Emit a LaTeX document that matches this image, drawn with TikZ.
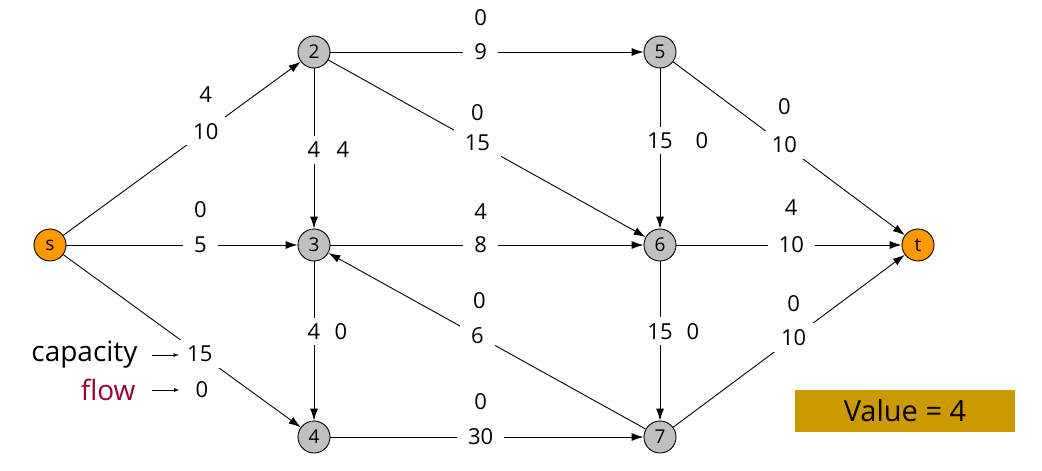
\documentclass[tikz,border=0pt]{standalone}
\usepackage{fontspec}
\setmainfont{Open Sans}
\usetikzlibrary{arrows,arrows.meta,positioning}
\definecolor{vertexgray}{RGB}{192,192,192}
\definecolor{terminalorange}{RGB}{255,153,0}
\definecolor{flowred}{RGB}{153,0,51}
\definecolor{valuegold}{RGB}{204,153,0}

\begin{document}
\begin{tikzpicture}[x=1pt,y=-1pt,
    vertex/.style={circle,draw,line width=0.9pt,fill=vertexgray,minimum size=32pt,inner sep=0pt,font=\fontsize{19}{21}\selectfont},
    terminal/.style={vertex,fill=terminalorange},
    netedge/.style={-{Latex[length=12pt,width=8pt]},line width=0.9pt},
    caplbl/.style={fill=white,inner xsep=11pt,inner ysep=6pt,font=\fontsize{22}{24}\selectfont},
    flowlbl/.style={inner sep=2pt,font=\fontsize{22}{24}\selectfont},
    legend/.style={font=\fontsize{28}{30}\selectfont}]
    \useasboundingbox (0,0) rectangle (1042,471);

    % Vertices
    \node[terminal] (s) at (50,245) {s};
    \node[vertex] (n2) at (314,52) {2};
    \node[vertex] (n3) at (314,245) {3};
    \node[vertex] (n4) at (314,437) {4};
    \node[vertex] (n5) at (660,52) {5};
    \node[vertex] (n6) at (660,245) {6};
    \node[vertex] (n7) at (660,437) {7};
    \node[terminal] (t) at (918,245) {t};

    % Edges with capacities
    \draw[netedge] (s) -- node[caplbl,pos=0.6] (cs2) {10} (n2);
    \draw[netedge] (s) -- node[caplbl,pos=0.58] (cs3) {5} (n3);
    \draw[netedge] (s) -- node[caplbl,pos=0.575] (cs4) {15} (n4);
    \draw[netedge] (n2) -- node[caplbl,pos=0.48] (c25) {9} (n5);
    \draw[netedge] (n2) -- node[caplbl,pos=0.47] (c26) {15} (n6);
    \draw[netedge] (n2) -- node[caplbl,pos=0.51] (c23) {4} (n3);
    \draw[netedge] (n3) -- node[caplbl,pos=0.48] (c36) {8} (n6);
    \draw[netedge] (n3) -- node[caplbl,pos=0.44] (c34) {4} (n4);
    \draw[netedge] (n4) -- node[caplbl,pos=0.48] (c47) {30} (n7);
    \draw[netedge] (n7) -- node[caplbl,pos=0.53] (c73) {6} (n3);
    \draw[netedge] (n5) -- node[caplbl,pos=0.45] (c56) {15} (n6);
    \draw[netedge] (n6) -- node[caplbl,pos=0.44] (c67) {15} (n7);
    \draw[netedge] (n5) -- node[caplbl,pos=0.48] (c5t) {10} (t);
    \draw[netedge] (n6) -- node[caplbl,pos=0.51] (c6t) {10} (t);
    \draw[netedge] (n7) -- node[caplbl,pos=0.52] (c7t) {10} (t);

    % Flows
    \node[flowlbl] (fs2) at ([yshift=37pt]cs2) {4};
    \node[flowlbl] (fs3) at ([yshift=35pt]cs3) {0};
    \node[flowlbl] (fs4) at ([yshift=-36pt,xshift=2pt]cs4) {0};
    \node[flowlbl] (f25) at ([yshift=34pt]c25) {0};
    \node[flowlbl] (f26) at ([yshift=31pt]c26) {0};
    \node[flowlbl] (f23) at ([xshift=29pt]c23) {4};
    \node[flowlbl] (f36) at ([yshift=33pt]c36) {4};
    \node[flowlbl] (f34) at ([xshift=27pt]c34) {0};
    \node[flowlbl] (f47) at ([yshift=35pt]c47) {0};
    \node[flowlbl] (f73) at ([yshift=35pt,xshift=2pt]c73) {0};
    \node[flowlbl] (f56) at ([xshift=42pt]c56) {0};
    \node[flowlbl] (f67) at ([xshift=33pt]c67) {0};
    \node[flowlbl] (f5t) at ([yshift=38pt]c5t) {0};
    \node[flowlbl] (f6t) at ([yshift=37pt]c6t) {4};
    \node[flowlbl] (f7t) at ([yshift=34pt]c7t) {0};

    % Legend
    \node[legend,anchor=east] (caplabel) at (141,355) {capacity};
    \node[legend,anchor=east,text=flowred] (flowlabel) at (139,390) {flow};
    \draw[-latex,line width=0.8pt,shorten <=11pt,shorten >=-3pt] (caplabel.east) -- (cs4.west |- caplabel.east);
    \draw[-latex,line width=0.8pt,shorten <=13pt,shorten >=14pt] (flowlabel.east) -- (fs4.west |- flowlabel.east);

    % Flow value
    \node[fill=valuegold,minimum width=220pt,minimum height=42pt,font=\fontsize{29}{32}\selectfont] (value) at (905,411) {Value = 4};
\end{tikzpicture}
\end{document}
